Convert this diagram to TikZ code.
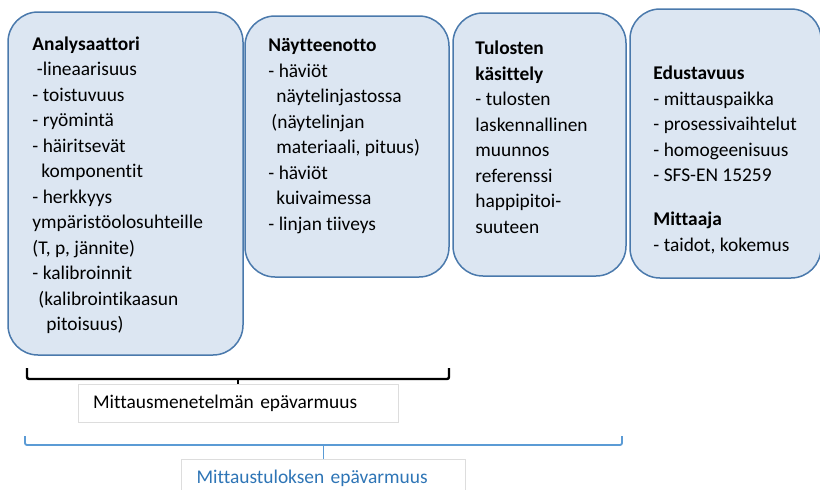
\documentclass[tikz,border=0pt]{standalone}
\usepackage{fontspec}
\setmainfont{Carlito}[Ligatures=NoCommon]
\usetikzlibrary{positioning}
\definecolor{panelfill}{HTML}{DCE6F2}
\definecolor{paneldraw}{HTML}{4A79AC}
\definecolor{braceblue}{HTML}{5B9BD5}
\definecolor{captionblue}{HTML}{2E75B6}
\definecolor{captionline}{HTML}{DDDDDD}

\begin{document}
\begin{tikzpicture}[x=1pt, y=-1pt,
    panel/.style={rectangle, rounded corners=30pt, draw=paneldraw, line width=1.5pt, fill=panelfill, inner sep=0pt},
    paneltext/.style={align=left, inner sep=0pt, font=\fontsize{19.4}{25.5}\selectfont},
    caption/.style={rectangle, draw=captionline, line width=0.9pt, fill=white, inner ysep=0pt, inner xsep=15pt, align=left, font=\fontsize{19.4}{23}\selectfont},
    methodbrace/.style={line width=2.4pt, rounded corners=2pt},
    resultbrace/.style={draw=braceblue, line width=1.8pt, rounded corners=2pt}
]
    \useasboundingbox (0,0) rectangle (820,490);
    \clip (0,0) rectangle (820,490);

    % the four boxes
    \node[panel, minimum width=235pt, minimum height=343pt] (analysaattori) at (125.5,183.5) {};
    \node[panel, minimum width=204pt, minimum height=261pt] (naytteenotto) at (347,146.5) {};
    \node[panel, minimum width=173pt, minimum height=263pt] (tulosten) at (539.5,144.5) {};
    \node[panel, minimum width=191pt, minimum height=269pt] (edustavuus) at (725.5,143.5) {};

    \node[paneltext, below right=25pt and 25pt of analysaattori.north west] (analysaattori-txt) {%
        \textbf{Analysaattori}\\
        \hspace*{4.5pt}-lineaarisuus\\
        - toistuvuus\\
        - ryömintä\\
        - häiritsevät\\
        \hspace*{9pt}komponentit\\
        - herkkyys\\
        ympäristöolosuhteille\\
        (T, p, jännite)\\
        - kalibroinnit\\
        \hspace*{6pt}(kalibrointikaasun\\
        \hspace*{14pt}pitoisuus)};
    \node[paneltext, below right=23pt and 24pt of naytteenotto.north west] (naytteenotto-txt) {%
        \textbf{Näytteenotto}\\
        - häviöt\\
        \hspace*{8pt}näytelinjastossa\\
        \hspace*{3pt}(näytelinjan\\
        \hspace*{8pt}materiaali, pituus)\\
        - häviöt\\
        \hspace*{8pt}kuivaimessa\\
        - linjan tiiveys};
    \node[paneltext, below right=28.5pt and 23pt of tulosten.north west] (tulosten-txt) {%
        \textbf{Tulosten}\\
        \textbf{käsittely}\\
        - tulosten\\
        laskennallinen\\
        muunnos\\
        referenssi\\
        happipitoi-\\
        suuteen};
    \node[paneltext, below right=57.5pt and 24pt of edustavuus.north west] (edustavuus-txt) {%
        \textbf{Edustavuus}\\
        - mittauspaikka\\
        - prosessivaihtelut\\
        - homogeenisuus\\
        - SFS-EN 15259\\[18.5pt]
        \textbf{Mittaaja}\\
        - taidot, kokemus};

    % labels under the braces
    \node[caption, minimum width=320pt, text width=290pt, minimum height=38pt] (menetelma) at (238,403) {Mittausmenetelmän epävarmuus};
    \node[caption, minimum width=284pt, text width=254pt, minimum height=39pt, text=captionblue] (tulos) at (323.5,478.5) {Mittaustuloksen epävarmuus};

    % braces
    \coordinate (menetelma-l) at (27,368);
    \coordinate (menetelma-r) at (449,368);
    \coordinate (tulos-l) at (25,436);
    \coordinate (tulos-r) at (622,436);

    \draw[methodbrace] (menetelma-l) |- (menetelma.north |- 0,379) -| (menetelma-r);
    \draw[methodbrace] (menetelma.north) -- (menetelma.north |- 0,379);
    \draw[resultbrace] (tulos-l) |- (tulos.north |- 0,445) -| (tulos-r);
    \draw[resultbrace] (tulos.north) -- (tulos.north |- 0,445);
\end{tikzpicture}
\end{document}
